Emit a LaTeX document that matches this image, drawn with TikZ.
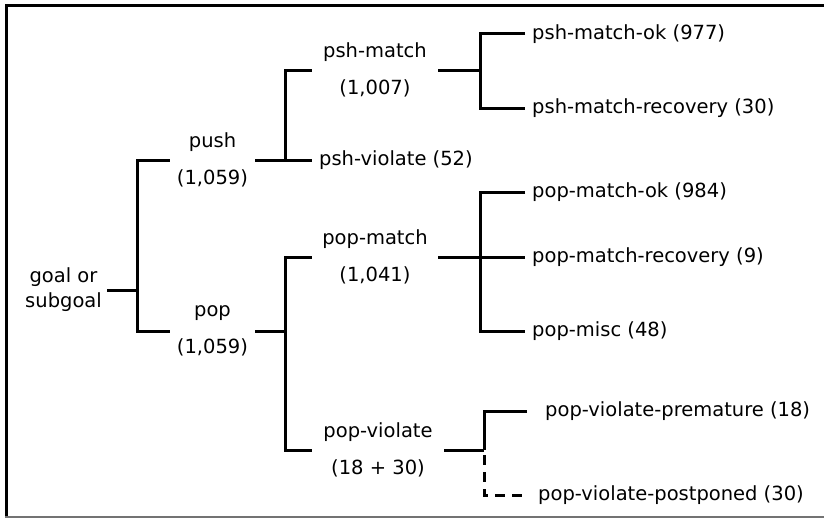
\documentclass[tikz,border=0pt]{standalone}
\usepackage{fontspec}
\setmainfont{DejaVu Sans}
\begin{document}
\begin{tikzpicture}[x=1pt,y=-1pt,
  every node/.style={font=\fontsize{19.5}{23}\selectfont, inner sep=0pt},
  br/.style={line width=3pt},
  mid/.style={align=center, font=\fontsize{19.5}{37}\selectfont},
  leaf/.style={anchor=west, inner xsep=7pt},
  dashbr/.style={line width=3pt, dash pattern=on 10pt off 7pt, dash phase=12pt}]
\useasboundingbox (0,0) rectangle (824,519);
% frame
\draw[line width=3pt] (824,6) -- (6.5,6) -- (6.5,517);
\draw[line width=1.8pt, black!55] (5,517) -- (824,517);

% junction columns
\coordinate (j1) at (137,0);
\coordinate (j2) at (285,0);
\coordinate (j3) at (480,0);
\coordinate (j4) at (484,0);

% nodes
\node[align=center, font=\fontsize{19.5}{25}\selectfont, anchor=east, inner xsep=5pt] (root) at (107,290) {goal or\\subgoal};
\node[mid, minimum width=85pt] (push) at (212.5,160) {push\\(1,059)};
\node[mid, minimum width=85pt] (pop) at (212.5,331) {pop\\(1,059)};
\node[mid, minimum width=126pt] (pshm) at (375,70) {psh-match\\(1,007)};
\node[leaf] (pshv) at (312,160) {psh-violate (52)};
\node[mid, minimum width=126pt] (popm) at (375,257) {pop-match\\(1,041)};
\node[mid, minimum width=132pt] (popv) at (378,450) {pop-violate\\(18 + 30)};

\node[leaf] (pmok) at (525,34) {psh-match-ok (977)};
\node[leaf] (pmrec) at (525,108) {psh-match-recovery (30)};
\node[leaf] (ppok) at (525,192) {pop-match-ok (984)};
\node[leaf] (pprec) at (525,257) {pop-match-recovery (9)};
\node[leaf] (pmisc) at (525,331) {pop-misc (48)};
\node[leaf, inner xsep=18pt] (pvpre) at (527,411) {pop-violate-premature (18)};
\node[leaf, inner xsep=11pt] (pvpost) at (527,495) {pop-violate-postponed (30)};

% connectors
\draw[br] (root.east) -- (root.east -| j1);
\draw[br] (push.west) -- (push.west -| j1) -- (pop.west -| j1) -- (pop.west);

\draw[br] (push.east) -- (push.east -| j2);
\draw[br] (pshm.west) -- (pshm.west -| j2) -- (pshv.west -| j2) -- (pshv.west);

\draw[br] (pop.east) -- (pop.east -| j2);
\draw[br] (popm.west) -- (popm.west -| j2) -- (popv.west -| j2) -- (popv.west);

\draw[br] (pshm.east) -- (pshm.east -| j3);
\draw[br] (pmok.west) -- (pmok.west -| j3) -- (pmrec.west -| j3) -- (pmrec.west);

\draw[br] (popm.east) -- (pprec.west);
\draw[br] (ppok.west) -- (ppok.west -| j3) -- (pmisc.west -| j3) -- (pmisc.west);

\draw[br] (popv.east) -- (popv.east -| j4);
\draw[br] (pvpre.west) -- (pvpre.west -| j4) -- (popv.east -| j4);
\draw[dashbr] (popv.east -| j4) -- (pvpost.west -| j4) -- (pvpost.west);
\end{tikzpicture}
\end{document}
